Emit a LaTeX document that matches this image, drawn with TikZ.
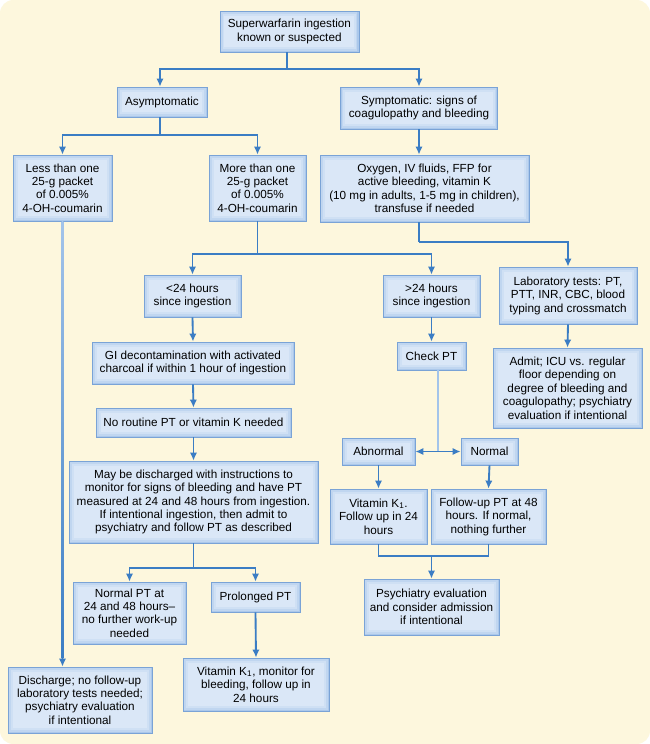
\documentclass[tikz,border=0pt]{standalone}
\usepackage{fontspec}
\setmainfont{Liberation Sans}
\usetikzlibrary{arrows.meta,calc}
\definecolor{bgc}{HTML}{FDF7DD}
\definecolor{arc}{HTML}{3B7DC4}
\definecolor{arcl}{HTML}{A3C4EA}
\definecolor{bedge}{HTML}{7AA3D6}
\definecolor{bc1}{HTML}{ABC8EB}
\definecolor{bc2}{HTML}{C0D6F0}
\definecolor{bc3}{HTML}{CFE0F4}
\definecolor{bc4}{HTML}{DAE7F7}
\tikzset{
  sz/.style 2 args={minimum width=#1*0.75pt, minimum height=#2*0.75pt},
  box/.style={rectangle, draw=bedge, line width=0.6pt, fill=bc1, inner sep=1pt,
    align=center, font=\fontsize{8.8}{10.1}\selectfont, text=black,
    path picture={
      \fill[bc2] ([shift={(1.1pt,1.1pt)}]path picture bounding box.south west) rectangle ([shift={(-1.1pt,-1.1pt)}]path picture bounding box.north east);
      \fill[bc3] ([shift={(2.2pt,2.2pt)}]path picture bounding box.south west) rectangle ([shift={(-2.2pt,-2.2pt)}]path picture bounding box.north east);
      \fill[bc4] ([shift={(3.4pt,3.4pt)}]path picture bounding box.south west) rectangle ([shift={(-3.4pt,-3.4pt)}]path picture bounding box.north east);
    }},
  conn/.style={draw=arc, line width=1.4pt},
  connl/.style={draw=arcl, line width=1.4pt},
  arr/.style={conn, -{Latex[length=6pt,width=5.5pt]}},
  arr2/.style={conn, {Latex[length=6pt,width=5.5pt]}-{Latex[length=6pt,width=5.5pt]}}
}
\begin{document}
\begin{tikzpicture}[x=0.75pt,y=-0.75pt]
\useasboundingbox (0,0) rectangle (650,744);
\fill[white] (0,0) rectangle (650,744);
\fill[bgc, rounded corners=10pt] (0,0) rectangle (650,744);

\node[box, sz={139}{41}] (top) at (289.4,31.5) {Superwarfarin ingestion\\known or suspected};
\node[box, sz={90}{30}] (asym) at (162,102) {Asymptomatic};
\node[box, sz={157}{42}] (symp) at (419,108) {Symptomatic: signs of\\coagulopathy and bleeding};
\node[box, sz={99}{66}] (less) at (62.5,188) {Less than one\\25-g packet\\of 0.005\%\\4-OH-coumarin};
\node[box, sz={97}{66}] (more) at (257.5,188) {More than one\\25-g packet\\of 0.005\%\\4-OH-coumarin};
\node[box, sz={209}{67}] (oxy) at (424.5,188.5) {Oxygen, IV fluids, FFP for\\active bleeding, vitamin K\\(10 mg in adults, 1-5 mg in children),\\transfuse if needed};
\node[box, sz={97}{42}] (lt) at (192.5,296) {<24 hours\\since ingestion};
\node[box, sz={97}{42}] (gt) at (431.5,296) {>24 hours\\since ingestion};
\node[box, sz={138}{57}] (lab) at (568,295.5) {Laboratory tests: PT,\\PTT, INR, CBC, blood\\typing and crossmatch};
\node[box, sz={202}{42}] (gi) at (193,363) {GI decontamination with activated\\charcoal if within 1 hour of ingestion};
\node[box, sz={195}{29}] (nort) at (193.5,422.5) {No routine PT or vitamin K needed};
\node[box, sz={249}{82}] (may) at (193.5,502) {May be discharged with instructions to\\monitor for signs of bleeding and have PT\\measured at 24 and 48 hours from ingestion.\\If intentional ingestion, then admit to\\psychiatry and follow PT as described};
\node[box, sz={113}{62}] (npt) at (129.5,613) {Normal PT at\\24 and 48 hours--\\no further work-up\\needed};
\node[box, sz={89}{30}] (prol) at (255.5,597) {Prolonged PT};
\node[box, sz={146}{53}] (vkm) at (256,684.5) {Vitamin K\textsubscript{1}, monitor for\\bleeding, follow up in\\24 hours};
\node[box, sz={144}{66}] (dis) at (80,700) {Discharge; no follow-up\\laboratory tests needed;\\psychiatry evaluation\\if intentional};
\node[box, sz={69}{28}] (chk) at (431.5,356) {Check PT};
\node[box, sz={149}{80}] (adm) at (567.5,388) {Admit; ICU vs. regular\\floor depending on\\degree of bleeding and\\coagulopathy; psychiatry\\evaluation if intentional};
\node[box, sz={73}{27}] (abn) at (378.5,451.5) {Abnormal};
\node[box, sz={57}{27}] (nor) at (489.5,451.5) {Normal};
\node[box, sz={97}{55}] (vk1) at (378.5,516.5) {Vitamin K\textsubscript{1}.\\Follow up in 24\\hours};
\node[box, sz={115}{55}] (fu) at (488.5,516.5) {Follow-up PT at 48\\hours. If normal,\\nothing further};
\node[box, sz={135}{56}] (psy) at (431.5,607) {Psychiatry evaluation\\and consider admission\\if intentional};

% connectors
\coordinate (j1) at ($(top.south)+(-2,16.5)$);
\draw[conn] ($(top.south)+(-2,0)$) -- (j1);
\draw[arr] (j1) -| ($(asym.north)+(-2,0)$);
\draw[arr] (j1) -| (symp.north);

\coordinate (j2) at ($(asym.south)+(-2,18)$);
\draw[conn] ($(asym.south)+(-2,0)$) -- (j2);
\draw[arr] (j2) -| (less.north);
\draw[arr] (j2) -| (more.north);

\draw[arr] (symp.south) -- (symp.south |- oxy.north);

\coordinate (j3) at ($(more.south)+(0,33)$);
\draw[conn] (more.south) -- (j3);
\draw[arr] (j3) -| (lt.north);
\draw[arr] (j3) -| (gt.north);

\coordinate (j4) at ($(oxy.south)+(-5.5,20)$);
\draw[conn] ($(oxy.south)+(-5.5,0)$) -- (j4);
\draw[arr] (j4) -| (lab.north);

\shade[top color=arcl, bottom color=arc] ($(less.south)+(-0.7pt,0)$) rectangle ($(less.south |- dis.north)+(0.7pt,-8)$);
\draw[arr] ($(less.south |- dis.north)+(0,-9)$) -- (less.south |- dis.north);
\draw[arr] (lt.south) -- (gi.north);
\draw[arr] (gi.south) -- (nort.north);
\draw[arr] (nort.south) -- (may.north);

\coordinate (j5) at ($(may.south)+(0,25)$);
\draw[conn] (may.south) -- (j5);
\draw[arr] (j5) -| (npt.north);
\draw[arr] (j5) -| (prol.north);
\draw[arr] (prol.south) -- (vkm.north);

\draw[arr] (gt.south) -- (chk.north);
\coordinate (sp) at ($(abn.east)!0.5!(nor.west)$);
\draw[connl] (chk.south -| sp) -- (sp);
\draw[arr2] (abn.east) -- (nor.west);
\draw[arr] (abn.south) -- (vk1.north);
\draw[arr] (nor.south) -- (fu.north);

\coordinate (mg) at ($(psy.north)+(0,-23)$);
\draw[conn] (vk1.south) |- (fu.south |- mg) -- (fu.south);
\draw[arr] (mg) -- (psy.north);

\draw[arr] (lab.south) -- (adm.north);
\end{tikzpicture}
\end{document}
